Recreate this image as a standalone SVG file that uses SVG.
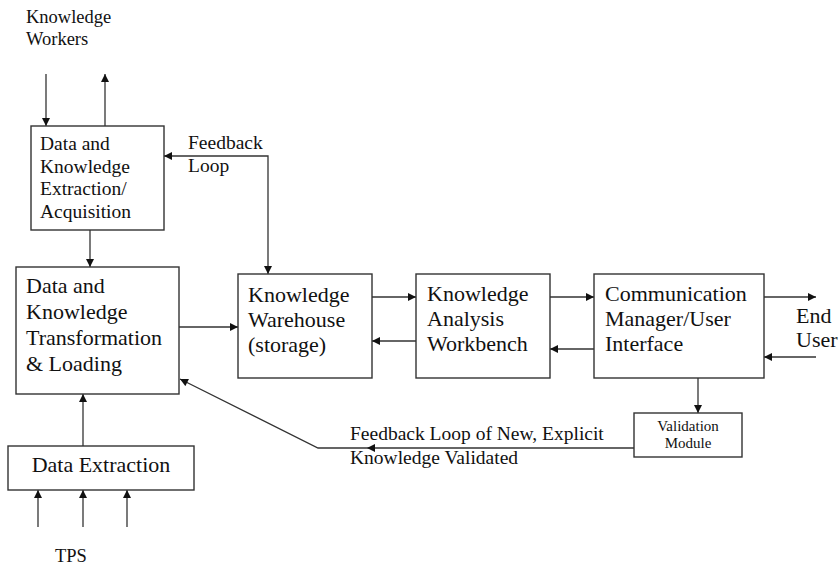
<svg xmlns="http://www.w3.org/2000/svg" width="839" height="566" viewBox="0 0 839 566">
<style>
.box{fill:#fff;stroke:#333;stroke-width:1.4}
.ln{fill:none;stroke:#333;stroke-width:1.3;marker-end:url(#ah)}
.both{marker-start:url(#ah)}
text{font-family:"Liberation Serif","Times New Roman",serif;fill:#111}
.t22{font-size:22px}
.t19{font-size:19.5px}
.t18{font-size:18.5px}
.t15{font-size:15px}
</style>
<defs>
<marker id="ah" viewBox="0 0 10 10" refX="10" refY="5" markerWidth="10" markerHeight="8" markerUnits="userSpaceOnUse" orient="auto-start-reverse">
<path d="M0,0 L10,5 L0,10 z" fill="#111"/>
</marker>
</defs>
<rect width="839" height="566" fill="#fff"/>

<g id="connectors">
<line class="ln" x1="46" y1="74" x2="46" y2="126"/>
<line class="ln" x1="105" y1="126" x2="105" y2="74"/>
<polyline class="ln both" points="268,274 268,156 164,156"/>
<line class="ln" x1="90" y1="230" x2="90" y2="267"/>
<line class="ln" x1="179" y1="327" x2="238" y2="327"/>
<line class="ln" x1="372" y1="297" x2="416" y2="297"/>
<line class="ln" x1="416" y1="341" x2="372" y2="341"/>
<line class="ln" x1="550" y1="297" x2="594" y2="297"/>
<line class="ln" x1="594" y1="349" x2="550" y2="349"/>
<line class="ln" x1="764" y1="297" x2="816" y2="297"/>
<line class="ln" x1="816" y1="357" x2="764" y2="357"/>
<line class="ln" x1="698" y1="378" x2="698" y2="413"/>
<line class="ln" x1="634" y1="448" x2="367" y2="448"/>
<polyline class="ln" points="367,448 318,448 180,379"/>
<line class="ln" x1="83" y1="446" x2="83" y2="394"/>
<line class="ln" x1="38" y1="527" x2="38" y2="490"/>
<line class="ln" x1="83" y1="527" x2="83" y2="490"/>
<line class="ln" x1="127" y1="527" x2="127" y2="490"/>
</g>

<g id="knowledge-workers">
<text class="t18" x="26" y="23">Knowledge</text>
<text class="t18" x="26" y="45">Workers</text>
</g>

<g id="extraction-acquisition">
<rect class="box" x="31" y="126" width="133" height="104"/>
<text class="t19" x="40" y="150">Data and</text>
<text class="t19" x="40" y="173">Knowledge</text>
<text class="t19" x="40" y="195">Extraction/</text>
<text class="t19" x="40" y="218">Acquisition</text>
</g>

<g id="feedback-loop-label">
<text class="t19" x="188" y="149">Feedback</text>
<text class="t19" x="188" y="172">Loop</text>
</g>

<g id="transformation-loading">
<rect class="box" x="16" y="267" width="163" height="127"/>
<text class="t22" x="26" y="293">Data and</text>
<text class="t22" x="26" y="319">Knowledge</text>
<text class="t22" x="26" y="345">Transformation</text>
<text class="t22" x="26" y="371">&amp; Loading</text>
</g>

<g id="knowledge-warehouse">
<rect class="box" x="238" y="274" width="134" height="104"/>
<text class="t22" x="248" y="302">Knowledge</text>
<text class="t22" x="248" y="327">Warehouse</text>
<text class="t22" x="248" y="352">(storage)</text>
</g>

<g id="analysis-workbench">
<rect class="box" x="416" y="274" width="134" height="104"/>
<text class="t22" x="427" y="301">Knowledge</text>
<text class="t22" x="427" y="326">Analysis</text>
<text class="t22" x="427" y="351">Workbench</text>
</g>

<g id="communication-manager">
<rect class="box" x="594" y="274" width="170" height="104"/>
<text class="t22" x="605" y="301">Communication</text>
<text class="t22" x="605" y="326">Manager/User</text>
<text class="t22" x="605" y="351">Interface</text>
</g>

<g id="end-user">
<text class="t22" x="796" y="323">End</text>
<text class="t22" x="796" y="347">User</text>
</g>

<g id="validation-module">
<rect class="box" x="634" y="413" width="108" height="44"/>
<text class="t15" x="688" y="431" text-anchor="middle">Validation</text>
<text class="t15" x="688" y="448" text-anchor="middle">Module</text>
</g>

<g id="feedback-validated-label">
<text class="t19" x="350" y="440">Feedback Loop of New, Explicit</text>
<text class="t19" x="350" y="464">Knowledge Validated</text>
</g>

<g id="data-extraction">
<rect class="box" x="8" y="446" width="186" height="44"/>
<text class="t22" x="101" y="472" text-anchor="middle">Data Extraction</text>
</g>

<g id="tps">
<text class="t18" x="55" y="562">TPS</text>
</g>
</svg>
